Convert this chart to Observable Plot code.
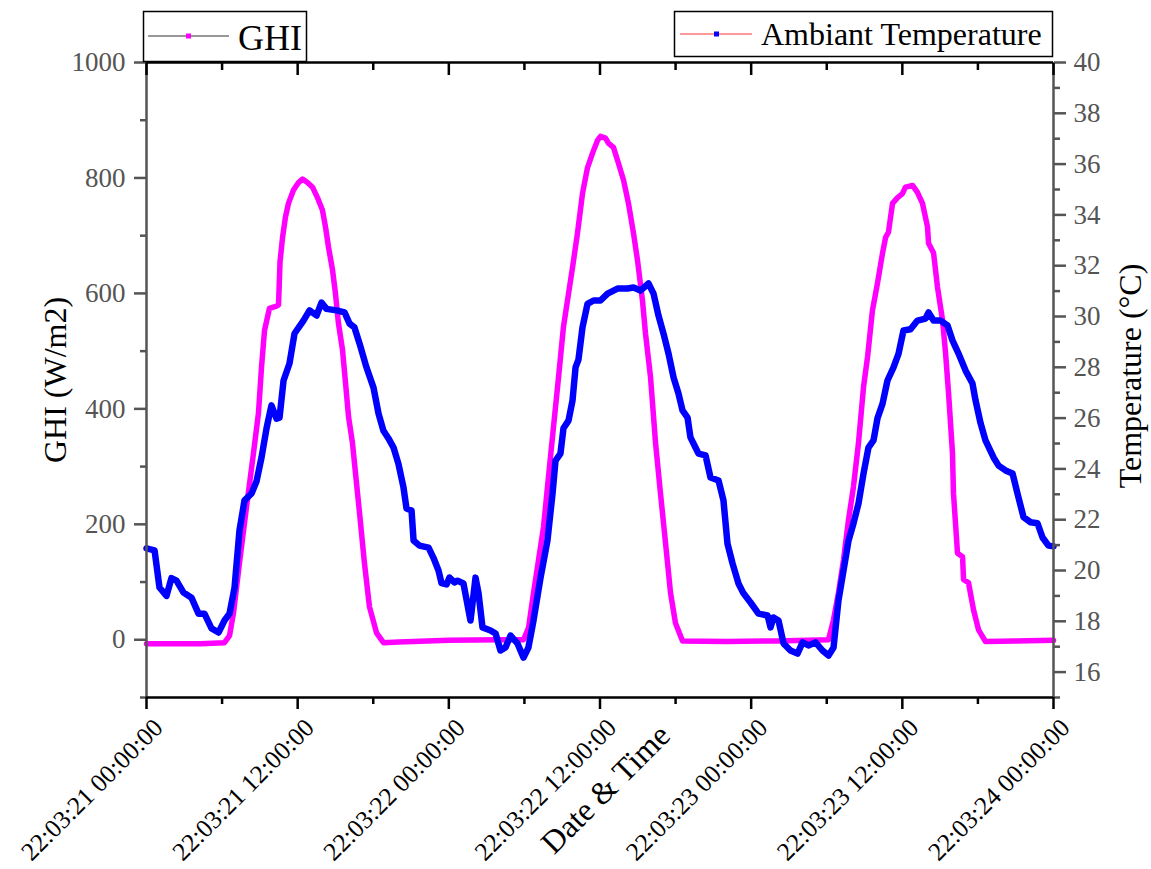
<!DOCTYPE html>
<html>
<head>
<meta charset="utf-8">
<script src="https://cdn.jsdelivr.net/npm/d3@7"></script>
<script src="https://cdn.jsdelivr.net/npm/@observablehq/plot@0.6"></script>
<style>
  body { margin: 0; background: #fff; }
  #wrap { position: relative; width: 1151px; height: 869px; font-family: 'Liberation Serif', serif; }
  #wrap svg, #wrap svg text { font-family: 'Liberation Serif', serif !important; }
  #legend { position: absolute; left: 0; top: 0; pointer-events: none; }
</style>
</head>
<body>
<div id="wrap"></div>
<script>
// ---- data (hours since 2022-03-21 00:00) ----
const ghiHours = [0, 4.29, 6.19, 6.59, 6.91, 7.38, 7.94, 8.49, 8.89, 9.13, 9.37, 9.76, 10.32, 10.48, 10.6, 10.8, 11.03, 11.27, 11.67, 12.07, 12.38, 12.78, 13.18, 13.57, 13.97, 14.21, 14.45, 14.77, 15.0, 15.24, 15.56, 15.8, 16.04, 16.35, 16.51, 16.91, 17.3, 17.7, 18.26, 18.81, 20, 24, 28, 29.93,
  30.33, 30.72, 31.12, 31.52, 31.91, 32.31, 32.71, 33.1, 33.42, 33.82, 34.21, 34.61, 35.01, 35.41, 35.8, 36.04, 36.44, 36.68, 37.07, 37.47, 37.87, 38.26, 38.66, 38.98, 39.37, 39.61, 40.01, 40.41, 40.8, 41.2, 41.6, 41.99, 42.55, 46, 50, 54.14,
  54.54, 54.93, 55.33, 55.73, 56.12, 56.52, 56.92, 57.24, 57.63, 58.03, 58.43, 58.67, 58.9, 59.22, 59.62, 60.01, 60.25, 60.81, 61.2, 61.6, 62.0, 62.08, 62.48, 62.79, 63.19, 63.43, 63.67, 63.98, 64.06, 64.38, 64.78, 64.86, 65.25, 65.65, 66.05, 66.6, 69, 72];
const ghiValues = [-7, -7, -5, 7, 47, 133, 230, 323, 393, 472, 536, 574, 578, 580, 655, 697, 732, 756, 779, 792, 798, 792, 784, 766, 744, 715, 680, 640, 600, 548, 502, 445, 386, 341, 306, 220, 133, 57, 12, -5, -4, -1, 0, 0,
  21, 81, 138, 196, 282, 369, 455, 542, 588, 645, 704, 773, 818, 843, 865, 872, 869, 860, 853, 825, 796, 756, 704, 657, 588, 531, 455, 341, 254, 168, 81, 29, -2, -3, -2, 0,
  35, 81, 138, 208, 265, 341, 438, 490, 571, 618, 670, 697, 706, 756, 766, 773, 784, 787, 775, 756, 715, 687, 670, 611, 554, 497, 427, 324, 254, 150, 144, 104, 99, 52, 17, -3, -2, -1];

const tempHours = [0, 0.64, 1.03, 1.59, 1.98, 2.38, 2.94, 3.57, 4.13, 4.6, 5.16, 5.72, 6.19, 6.59, 6.99, 7.38, 7.78, 8.34, 8.73, 9.13, 9.53, 9.92, 10.32, 10.56, 10.88, 11.35, 11.75, 12.46, 12.94, 13.5, 13.89, 14.29, 15.08, 15.72, 16.12, 16.51, 16.91, 17.46, 18.02, 18.42, 18.81, 19.21, 19.61, 20.0, 20.4, 20.64, 21.04, 21.2, 21.67, 22.39, 22.78, 23.18, 23.42, 23.82, 24.05, 24.45,
  24.69, 25.16, 25.72, 26.12, 26.36, 26.67, 27.31, 27.71, 28.1, 28.5, 28.9, 29.45, 29.93, 30.32, 30.72, 31.28, 31.83, 32.23, 32.47, 32.86, 33.1, 33.5, 33.82, 34.06, 34.29, 34.61, 35.01, 35.49, 36.04, 36.6, 37.39, 38.18, 38.66, 39.21, 39.85, 40.25, 40.64, 41.04, 41.44, 41.84, 42.23, 42.55, 42.95, 43.18, 43.58, 43.82, 44.38, 44.77, 45.41, 45.8, 46.12, 46.52, 46.99, 47.39, 47.95, 48.58,
  49.3, 49.54, 49.77, 50.17, 50.57, 51.12, 51.68, 52.08, 52.55, 53.11, 53.66, 54.14, 54.54, 54.93, 55.33, 55.73, 56.12, 56.52, 56.92, 57.31, 57.71, 58.03, 58.43, 58.82, 59.3, 59.7, 60.09, 60.65, 61.2, 61.84, 62.08, 62.48, 63.03, 63.59, 63.98, 64.46, 65.02, 65.57, 65.81, 66.21, 66.6, 67.24, 67.64, 68.19, 68.75, 69.14, 69.62, 70.18, 70.73, 71.13, 71.6, 72.0];
const tempValues = [20.87, 20.79, 19.33, 19.0, 19.7, 19.6, 19.13, 18.93, 18.3, 18.3, 17.72, 17.56, 18.03, 18.3, 19.33, 21.57, 22.76, 23.03, 23.5, 24.45, 25.6, 26.5, 25.98, 26.02, 27.48, 28.15, 29.33, 29.84, 30.24, 30.04, 30.55, 30.3, 30.24, 30.16, 29.72, 29.57, 28.94, 28.0, 27.2, 26.18, 25.5, 25.2, 24.84, 24.2, 23.27, 22.44, 22.36, 21.18, 20.98, 20.9, 20.5, 20.0, 19.5, 19.45, 19.72, 19.53,
  19.6, 19.49, 18.03, 19.72, 19.1, 17.76, 17.64, 17.52, 16.85, 16.97, 17.44, 17.13, 16.57, 16.97, 18.03, 19.72, 21.18, 23.03, 24.33, 24.6, 25.6, 25.9, 26.7, 28.0, 28.3, 29.57, 30.5, 30.63, 30.63, 30.9, 31.1, 31.1, 31.14, 31.02, 31.3, 30.9, 30.04, 29.33, 28.54, 27.6, 26.97, 26.3, 26.02, 25.24, 24.84, 24.6, 24.53, 23.66, 23.54, 22.76, 21.06, 20.28, 19.49, 19.1, 18.74, 18.3,
  18.23, 17.76, 18.15, 18.03, 17.13, 16.85, 16.73, 17.17, 17.05, 17.17, 16.85, 16.65, 16.97, 18.82, 20.0, 21.18, 21.85, 22.64, 23.82, 24.84, 25.12, 26.0, 26.57, 27.48, 28.0, 28.54, 29.45, 29.5, 29.84, 29.92, 30.16, 29.84, 29.84, 29.65, 29.06, 28.54, 27.87, 27.36, 26.7, 25.8, 25.12, 24.45, 24.13, 23.94, 23.82, 23.03, 22.1, 21.9, 21.86, 21.3, 20.98, 20.95];

const xTickLabels = ["22:03:21 00:00:00", "22:03:21 12:00:00", "22:03:22 00:00:00", "22:03:22 12:00:00", "22:03:23 00:00:00", "22:03:23 12:00:00", "22:03:24 00:00:00"];
const ghiTicks = [0, 200, 400, 600, 800, 1000];
const ghiMinorTicks = [-100, 100, 300, 500, 700, 900];
const tempTicks = [16, 18, 20, 22, 24, 26, 28, 30, 32, 34, 36, 38, 40];
const tempMinorTicks = [15, 17, 19, 21, 23, 25, 27, 29, 31, 33, 35, 37, 39];

// ---- helpers ----
const FONT = "'Liberation Serif', serif";
const t0 = Date.UTC(2022, 2, 21);
const toDate = h => new Date(t0 + h * 3600e3);
const ghiDomain = [-100, 1000];
const tempDomain = [15, 40];
const tToY = T => (T - tempDomain[0]) / (tempDomain[1] - tempDomain[0]) * (ghiDomain[1] - ghiDomain[0]) + ghiDomain[0];

const ghiData = ghiHours.map((h, i) => ({date: toDate(h), value: ghiValues[i]}));
const tempData = tempHours.map((h, i) => ({date: toDate(h), value: tToY(tempValues[i])}));
const majorX = xTickLabels.map((_, i) => toDate(i * 12));
const minorX = xTickLabels.slice(1).map((_, i) => toDate(i * 12 + 6));
const labelOf = d => xTickLabels[majorX.findIndex(m => +m === +d)];
const tempTickY = tempTicks.map(tToY);

const chart = Plot.plot({
  width: 1151,
  height: 869,
  marginLeft: 146,
  marginRight: 98,
  marginTop: 62,
  marginBottom: 172,
  style: {fontFamily: FONT, background: "transparent", overflow: "visible"},
  x: {type: "utc", domain: [toDate(0), toDate(72)]},
  y: {domain: ghiDomain},
  marks: [
    Plot.line(ghiData, {x: "date", y: "value", stroke: "#ff00ff", strokeWidth: 5.5}),
    Plot.line(tempData, {x: "date", y: "value", stroke: "#0000ff", strokeWidth: 6.5}),
    // frame
    Plot.ruleX([toDate(0)], {stroke: "#555", strokeWidth: 2.5}),
    Plot.ruleX([toDate(72)], {stroke: "#555", strokeWidth: 2.5}),
    Plot.ruleY([1000], {stroke: "#000", strokeWidth: 2.5}),
    Plot.ruleY([-100], {stroke: "#000", strokeWidth: 2.5}),
    // left axis
    Plot.axisY({anchor: "left", ticks: ghiTicks, tickSize: 12, tickPadding: 9, fontSize: 27, fontFamily: FONT, color: "#555", strokeWidth: 2.5, tickFormat: d => String(d), label: null}),
    Plot.axisY({anchor: "left", ticks: ghiMinorTicks, tickSize: 6, color: "#555", strokeWidth: 2.5, tickFormat: () => "", label: null}),
    // right axis
    Plot.axisY({anchor: "right", ticks: tempTickY, tickSize: 12, tickPadding: 8, fontSize: 27, fontFamily: FONT, color: "#555", strokeWidth: 2.5,
      tickFormat: d => String(tempTicks[tempTickY.findIndex(v => Math.abs(v - d) < 1e-6)]), label: null}),
    Plot.axisY({anchor: "right", ticks: tempMinorTicks.map(tToY), tickSize: 6, color: "#555", strokeWidth: 2.5, tickFormat: () => "", label: null}),
    // bottom axis: ticks
    Plot.axisX({anchor: "bottom", ticks: majorX, tickSize: 12, color: "#000", strokeWidth: 2.5, tickFormat: () => "", label: null}),
    Plot.axisX({anchor: "bottom", ticks: minorX, tickSize: 7, color: "#000", strokeWidth: 2.5, tickFormat: () => "", label: null}),
    // bottom axis: rotated labels
    Plot.axisX({anchor: "bottom", ticks: majorX, tickSize: 0, tickPadding: 26, dx: 12, tickRotate: -45, textAnchor: "end", fontSize: 25.5, fontFamily: FONT, fill: "#000", tickFormat: labelOf, label: null}),
    // top inward ticks
    Plot.axisX({anchor: "top", ticks: majorX, tickSize: 12, dy: 12, color: "#000", strokeWidth: 2.5, tickFormat: () => "", label: null}),
    Plot.axisX({anchor: "top", ticks: minorX, tickSize: 7, dy: 7, color: "#000", strokeWidth: 2.5, tickFormat: () => "", label: null}),
    // axis titles
    Plot.text(["GHI (W/m2)"], {text: d => d, frameAnchor: "left", textAnchor: "middle", dx: -91, rotate: -90, fontSize: 32, fontFamily: FONT, fill: "#000"}),
    Plot.text(["Temperature (°C)"], {text: d => d, frameAnchor: "right", textAnchor: "middle", dx: 77, dy: -4, rotate: -90, fontSize: 32, fontFamily: FONT, fill: "#000"}),
    Plot.text(["Date & Time"], {text: d => d, frameAnchor: "bottom", textAnchor: "middle", dx: 13, dy: 99, rotate: -45, fontSize: 32, fontFamily: FONT, fill: "#000"})
  ]
});

chart.setAttribute("font-family", FONT);
const wrap = document.getElementById("wrap");
wrap.appendChild(chart);

// legend overlay
const ns = "http://www.w3.org/2000/svg";
const leg = document.createElementNS(ns, "svg");
leg.setAttribute("id", "legend");
leg.setAttribute("width", 1151);
leg.setAttribute("height", 80);
leg.innerHTML = `
  <rect x="143.5" y="11.5" width="163" height="50" fill="#fff" stroke="#000" stroke-width="1.5"/>
  <line x1="148" y1="36" x2="229" y2="36" stroke="#333" stroke-width="1"/>
  <rect x="186" y="33.5" width="5" height="5" fill="#ff00ff"/>
  <text x="238" y="49.5" font-size="36" font-family="'Liberation Serif', serif" fill="#000">GHI</text>
  <rect x="674.5" y="11.5" width="378" height="45" fill="#fff" stroke="#000" stroke-width="1.5"/>
  <line x1="680" y1="34" x2="752" y2="34" stroke="#ff3333" stroke-width="1"/>
  <rect x="714" y="31.5" width="5" height="5" fill="#0000ff"/>
  <text x="761" y="45" font-size="32" font-family="'Liberation Serif', serif" fill="#000">Ambiant Temperature</text>
`;
wrap.appendChild(leg);
</script>
</body>
</html>
